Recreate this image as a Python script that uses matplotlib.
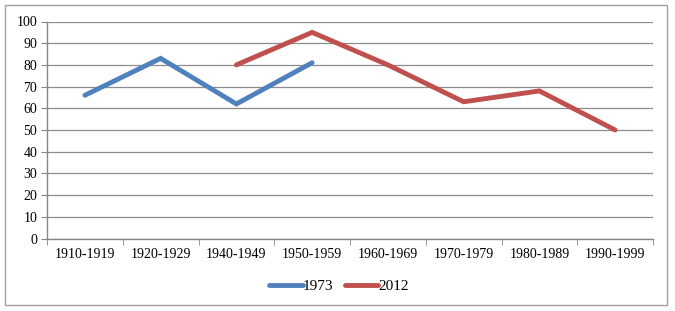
import matplotlib
matplotlib.use("Agg")
import matplotlib.pyplot as plt
from matplotlib.patches import Rectangle
import numpy as np

categories = ["1910-1919", "1920-1929", "1940-1949", "1950-1959",
              "1960-1969", "1970-1979", "1980-1989", "1990-1999"]
s1973 = [66, 83, 62, 81, None, None, None, None]
s2012 = [None, None, 80, 95, 80, 63, 68, 50]
yticks = list(range(0, 101, 10))

plt.rcParams['font.family'] = ['Liberation Serif', 'DejaVu Serif']

fig = plt.figure(figsize=(6.75, 3.11), dpi=100)
W, H = 675, 311
ax = fig.add_axes([47 / W, 1 - 238.5 / H, (653 - 47) / W, (238.5 - 21.5) / H])

x = np.arange(len(categories))
def arr(v):
    return np.array([np.nan if a is None else a for a in v], dtype=float)

ax.plot(x, arr(s1973), color="#4F81BD", lw=3.5, solid_capstyle='round', solid_joinstyle='miter', label="1973")
ax.plot(x, arr(s2012), color="#C0504D", lw=3.5, solid_capstyle='round', solid_joinstyle='miter', label="2012")

ax.set_xlim(-0.5, len(categories) - 0.5)
ax.set_ylim(0, 100)
ax.set_yticks(yticks)
ax.set_yticklabels([str(t) for t in yticks], fontsize=10)
ax.set_xticks(x)
ax.set_xticklabels(categories, fontsize=10)
ax.set_xticks(np.arange(-0.5, len(categories), 1), minor=True)
ax.tick_params(axis='x', which='major', length=0, pad=7)
ax.tick_params(axis='x', which='minor', length=4, color="#868686", direction='out')
ax.tick_params(axis='y', length=4, color="#868686", direction='out', pad=3)

ax.grid(axis='y', color="#8C8C8C", lw=0.9)
ax.set_axisbelow(True)
for s in ['top', 'right']:
    ax.spines[s].set_visible(False)
for s in ['left', 'bottom']:
    ax.spines[s].set_color("#868686")
    ax.spines[s].set_linewidth(1.0)

leg = fig.legend(loc='center', bbox_to_anchor=(339 / W, 1 - 286 / H), ncol=2,
                 frameon=False, fontsize=11, handlelength=2.2, handletextpad=0.0,
                 columnspacing=0.75)

fig.patches.append(Rectangle((5 / W, 1 - 305 / H), (667 - 5) / W, (305 - 5) / H,
                             transform=fig.transFigure, fill=False,
                             edgecolor="#A0A0A0", lw=1.0))

fig.savefig("out.png", dpi=100)
